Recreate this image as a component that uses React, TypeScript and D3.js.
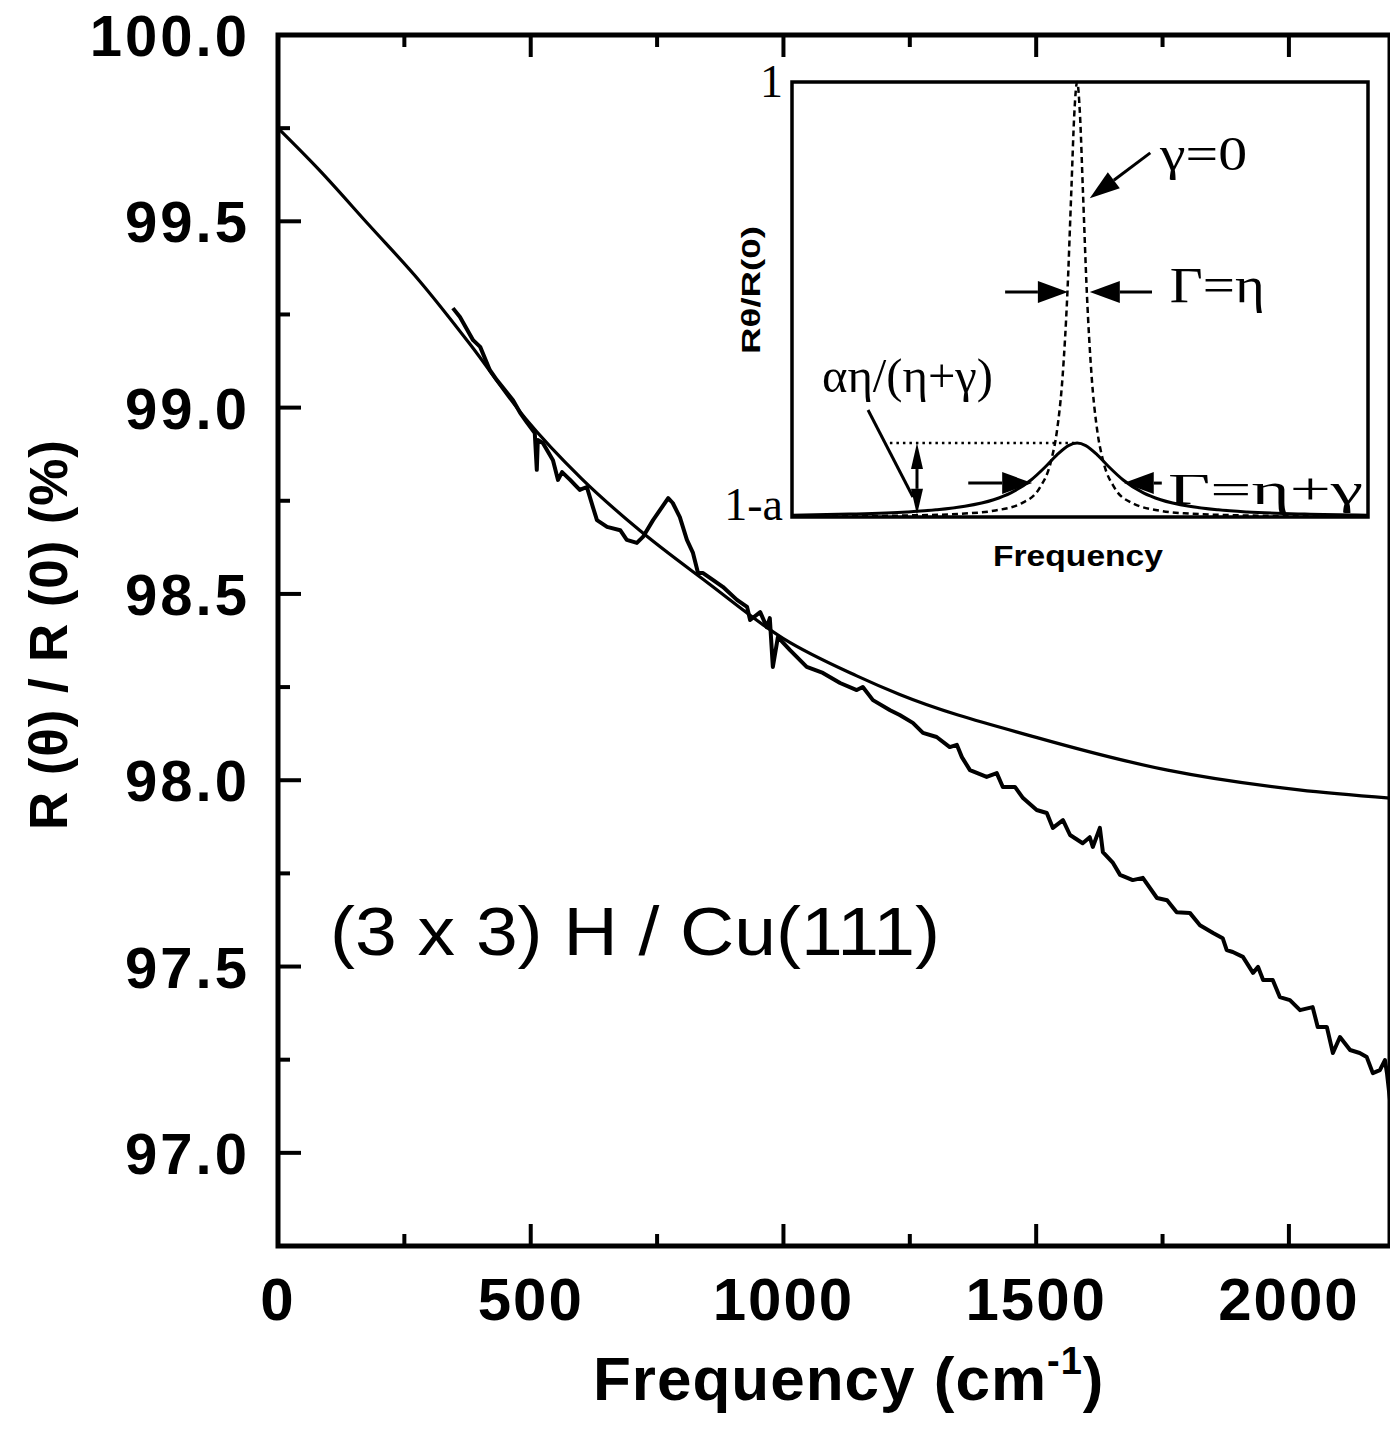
import React from 'react';
import * as d3 from 'd3';

// main plot: fitted curve
const fitFreq = [0, 80, 180, 280, 380, 490, 600, 716, 850, 1000, 1145, 1230, 1500, 1760, 2020, 2200];
const fitValue = [99.75, 99.64, 99.49, 99.34, 99.17, 98.97, 98.81, 98.67, 98.53, 98.38, 98.28, 98.23, 98.115, 98.027, 97.974, 97.952];

// main plot: measured spectrum
const dataFreq = [
  346, 360, 386, 400, 419, 433, 465, 479, 493, 508, 512, 514, 524, 544, 554, 562, 578, 597, 611, 623,
  631, 651, 677, 690, 710, 722, 742, 772, 781, 795, 809, 821, 831, 841, 861, 880, 908, 928, 934, 954,
  967, 973, 979, 989, 1013, 1046, 1078, 1112, 1145, 1157, 1177, 1211, 1230, 1256, 1276, 1303, 1329, 1343, 1353, 1369,
  1402, 1422, 1434, 1458, 1474, 1501, 1521, 1533, 1553, 1567, 1592, 1606, 1612, 1626, 1632, 1652, 1666, 1691, 1711, 1739,
  1759, 1778, 1804, 1824, 1850, 1869, 1877, 1889, 1909, 1929, 1939, 1949, 1968, 1982, 2002, 2022, 2047, 2057, 2075, 2087,
  2101, 2121, 2140, 2154, 2166, 2180, 2190, 2194, 2200,
];
const dataValue = [
  99.267, 99.243, 99.181, 99.163, 99.101, 99.074, 99.02, 98.986, 98.959, 98.932, 98.833, 98.913, 98.905, 98.859, 98.806, 98.827, 98.806, 98.779, 98.787, 98.733,
  98.698, 98.68, 98.671, 98.645, 98.637, 98.653, 98.698, 98.757, 98.744, 98.706, 98.645, 98.61, 98.556, 98.556, 98.537, 98.519, 98.484, 98.465, 98.43, 98.451,
  98.411, 98.435, 98.304, 98.384, 98.349, 98.304, 98.288, 98.261, 98.242, 98.25, 98.215, 98.188, 98.175, 98.154, 98.127, 98.116, 98.089, 98.095, 98.062, 98.027,
  98.009, 98.019, 97.982, 97.982, 97.952, 97.92, 97.912, 97.872, 97.893, 97.853, 97.831, 97.847, 97.821, 97.872, 97.807, 97.778, 97.746, 97.732, 97.738, 97.684,
  97.678, 97.646, 97.644, 97.611, 97.59, 97.576, 97.544, 97.539, 97.526, 97.483, 97.499, 97.464, 97.464, 97.418, 97.41, 97.383, 97.391, 97.338, 97.338, 97.268,
  97.311, 97.276, 97.268, 97.257, 97.214, 97.222, 97.249, 97.214, 97.142,
];

const xMajor = [0, 500, 1000, 1500, 2000];
const xMinor = [250, 750, 1250, 1750];
const yMajor = [97.0, 97.5, 98.0, 98.5, 99.0, 99.5, 100.0];
const yMinor = [97.25, 97.75, 98.25, 98.75, 99.25, 99.75];
const xTickLabels = ['0', '500', '1000', '1500', '2000'];
const yTickLabels = ['97.0', '97.5', '98.0', '98.5', '99.0', '99.5', '100.0'];

// inset: narrow (gamma = 0) and broad lorentzian, arbitrary units
const narrowX = [0, 0.1, 0.2, 0.3, 0.35, 0.4, 0.43, 0.45, 0.46, 0.47, 0.478, 0.485, 0.49, 0.495, 0.5, 0.505, 0.512, 0.52, 0.53, 0.54, 0.56, 0.59, 0.64, 0.69, 0.79, 0.89, 1.0];
const narrowY = [0.0012, 0.0019, 0.0035, 0.0079, 0.0143, 0.0325, 0.067, 0.13, 0.198, 0.327, 0.512, 0.752, 0.924, 1, 0.924, 0.752, 0.512, 0.327, 0.198, 0.13, 0.067, 0.0325, 0.0143, 0.0079, 0.0035, 0.0019, 0.0012];
const broadX = [0, 0.1, 0.2, 0.25, 0.3, 0.35, 0.38, 0.415, 0.44, 0.46, 0.48, 0.495, 0.51, 0.53, 0.55, 0.575, 0.61, 0.64, 0.69, 0.74, 0.79, 0.89, 1.0];
const broadY = [0.0043, 0.0067, 0.0116, 0.0164, 0.0245, 0.0396, 0.0554, 0.085, 0.1154, 0.1427, 0.1642, 0.17, 0.1642, 0.1427, 0.1154, 0.085, 0.0554, 0.0396, 0.0245, 0.0164, 0.0116, 0.0067, 0.0042];
const peakLevel = [0.17, 0.495, 0.17]; // dotted level: from x, to x, at y

const W = 1390;
const H = 1437;
const SANS = '"Liberation Sans", Arial, Helvetica, sans-serif';
const SERIF = '"Liberation Serif", "Times New Roman", serif';

function Arrow({ x1, y1, x2, y2, len = 28, wid = 20, sw = 3 }) {
  const a = Math.atan2(y2 - y1, x2 - x1);
  const bx = x2 - len * Math.cos(a);
  const by = y2 - len * Math.sin(a);
  const nx = -Math.sin(a) * wid / 2;
  const ny = Math.cos(a) * wid / 2;
  return (
    <g>
      <line x1={x1} y1={y1} x2={bx} y2={by} stroke="#000" strokeWidth={sw} />
      <polygon points={`${x2},${y2} ${bx + nx},${by + ny} ${bx - nx},${by - ny}`} fill="#000" />
    </g>
  );
}

export default function App() {
  const x = d3.scaleLinear().domain([0, 2200]).range([278, 1390]);
  const y = d3.scaleLinear().domain([96.75, 100]).range([1246, 35]);

  const fitLine = d3.line<number>()
    .x((d, i) => x(fitFreq[i]))
    .y((d) => y(d))
    .curve(d3.curveMonotoneX);
  const dataLine = d3.line<number>()
    .x((d, i) => x(dataFreq[i]))
    .y((d) => y(d));

  // inset scales
  const ix = d3.scaleLinear().domain([0, 1]).range([792, 1368]);
  const iy = d3.scaleLinear().domain([0, 1]).range([517, 82]);
  const narrowLine = d3.line<number>()
    .x((d, i) => ix(narrowX[i]))
    .y((d) => iy(d))
    .curve(d3.curveMonotoneX);
  const broadLine = d3.line<number>()
    .x((d, i) => ix(broadX[i]))
    .y((d) => iy(d))
    .curve(d3.curveMonotoneX);

  const [x0, x1] = x.range();
  const [yb, yt] = y.range();

  return (
    <svg width={W} height={H} style={{ position: 'absolute', left: 0, top: 0, background: '#fff' }}>
      <rect x={0} y={0} width={W} height={H} fill="#fff" />

      {/* curves */}
      <path d={fitLine(fitValue) || ''} fill="none" stroke="#000" strokeWidth={3.2} />
      <path d={dataLine(dataValue) || ''} fill="none" stroke="#000" strokeWidth={4} strokeLinejoin="round" />

      {/* frame */}
      <rect x={x0} y={yt} width={x1 - x0} height={yb - yt} fill="none" stroke="#000" strokeWidth={5} />

      {/* x ticks, bottom and top */}
      {xMajor.map((v) => (
        <g key={'xM' + v}>
          <line x1={x(v)} x2={x(v)} y1={yb} y2={yb - 22} stroke="#000" strokeWidth={4} />
          <line x1={x(v)} x2={x(v)} y1={yt} y2={yt + 22} stroke="#000" strokeWidth={4} />
        </g>
      ))}
      {xMinor.map((v) => (
        <g key={'xm' + v}>
          <line x1={x(v)} x2={x(v)} y1={yb} y2={yb - 12} stroke="#000" strokeWidth={4} />
          <line x1={x(v)} x2={x(v)} y1={yt} y2={yt + 12} stroke="#000" strokeWidth={4} />
        </g>
      ))}
      {yMajor.map((v) => (
        <line key={'yM' + v} x1={x0} x2={x0 + 23} y1={y(v)} y2={y(v)} stroke="#000" strokeWidth={4} />
      ))}
      {yMinor.map((v) => (
        <line key={'ym' + v} x1={x0} x2={x0 + 12} y1={y(v)} y2={y(v)} stroke="#000" strokeWidth={4} />
      ))}

      {/* tick labels */}
      {xMajor.map((v, i) => (
        <text key={'xl' + v} x={x(v)} y={1320} textAnchor="middle" fontFamily={SANS} fontWeight="bold"
          fontSize={60} letterSpacing={2}>{xTickLabels[i]}</text>
      ))}
      {yMajor.map((v, i) => (
        <text key={'yl' + v} x={250} y={y(v) + 21} textAnchor="end" fontFamily={SANS} fontWeight="bold"
          fontSize={58} letterSpacing={3}>{yTickLabels[i]}</text>
      ))}

      {/* axis titles */}
      <text x={593} y={1400} fontFamily={SANS} fontWeight="bold" fontSize={62} letterSpacing={1}>
        Frequency (cm<tspan fontSize={38} dy={-26}>-1</tspan><tspan dy={26}>)</tspan>
      </text>
      <text transform="translate(67,635) rotate(-90)" textAnchor="middle" fontFamily={SANS} fontWeight="bold"
        fontSize={53} textLength={390} lengthAdjust="spacing">R (θ) / R (0) (%)</text>

      {/* sample label */}
      <text x={330} y={955} fontFamily={SANS} fontSize={68} textLength={610} lengthAdjust="spacingAndGlyphs">
        (3 x 3) H / Cu(111)
      </text>

      {/* ---------- inset ---------- */}
      <line x1={ix(peakLevel[0])} x2={ix(peakLevel[1])} y1={iy(peakLevel[2])} y2={iy(peakLevel[2])}
        stroke="#000" strokeWidth={2.5} strokeDasharray="2.5 4" />
      <path d={narrowLine(narrowY) || ''} fill="none" stroke="#000" strokeWidth={2.5} strokeDasharray="6 4" />
      <path d={broadLine(broadY) || ''} fill="none" stroke="#000" strokeWidth={3} />
      <rect x={ix(0)} y={iy(1)} width={ix(1) - ix(0)} height={iy(0) - iy(1)} fill="none" stroke="#000" strokeWidth={3.5} />

      <text x={783} y={97} textAnchor="end" fontFamily={SERIF} fontSize={46}>1</text>
      <text x={783} y={520} textAnchor="end" fontFamily={SERIF} fontSize={46}>1-a</text>
      <text transform="translate(760,290) rotate(-90)" textAnchor="middle" fontFamily={SANS} fontWeight="bold"
        fontSize={26} textLength={128} lengthAdjust="spacingAndGlyphs">Rθ/R(0)</text>
      <text x={1078} y={566} textAnchor="middle" fontFamily={SANS} fontWeight="bold" fontSize={30}
        textLength={170} lengthAdjust="spacingAndGlyphs">Frequency</text>

      {/* gamma = 0 */}
      <Arrow x1={ix(0.622)} y1={iy(0.837)} x2={ix(0.517)} y2={iy(0.733)} len={30} wid={20} />
      <text x={ix(0.639)} y={iy(0.798)} fontFamily={SERIF} fontSize={48} textLength={87} lengthAdjust="spacingAndGlyphs">γ=0</text>

      {/* Gamma = eta */}
      <Arrow x1={ix(0.37)} y1={iy(0.517)} x2={ix(0.479)} y2={iy(0.517)} len={30} wid={22} />
      <Arrow x1={ix(0.625)} y1={iy(0.517)} x2={ix(0.517)} y2={iy(0.517)} len={30} wid={22} />
      <text x={ix(0.656)} y={iy(0.494)} fontFamily={SERIF} fontSize={50} textLength={95} lengthAdjust="spacingAndGlyphs">Γ=η</text>

      {/* Gamma = eta + gamma */}
      <Arrow x1={ix(0.306)} y1={iy(0.078)} x2={ix(0.417)} y2={iy(0.078)} len={30} wid={22} />
      <Arrow x1={ix(0.642)} y1={iy(0.078)} x2={ix(0.576)} y2={iy(0.078)} len={30} wid={22} />
      <text x={ix(0.653)} y={iy(0.03)} fontFamily={SERIF} fontSize={44} textLength={195} lengthAdjust="spacingAndGlyphs">Γ=η+γ</text>

      {/* alpha eta/(eta+gamma) */}
      <text x={ix(0.052)} y={iy(0.287)} fontFamily={SERIF} fontSize={48} textLength={171} lengthAdjust="spacingAndGlyphs">αη/(η+γ)</text>
      <line x1={ix(0.132)} y1={iy(0.246)} x2={ix(0.21)} y2={iy(0.046)} stroke="#000" strokeWidth={3} />
      <Arrow x1={ix(0.217)} y1={iy(0.085)} x2={ix(0.217)} y2={iy(0.17)} len={26} wid={12} />
      <Arrow x1={ix(0.217)} y1={iy(0.085)} x2={ix(0.217)} y2={iy(0.005)} len={26} wid={12} />
    </svg>
  );
}
